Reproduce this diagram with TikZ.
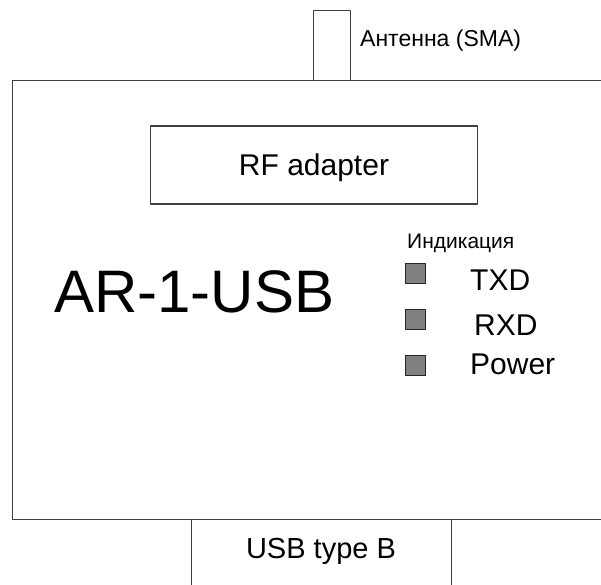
\documentclass[tikz,border=0pt]{standalone}
\usepackage{fontspec}
\setmainfont{Liberation Sans}
\begin{document}
\begin{tikzpicture}[x=1pt,y=-1pt,line join=round,
  box/.style={draw=black!75,line width=1.2pt,inner sep=0pt,anchor=north west},
  led/.style={draw=black!85,fill=black!50,line width=1.2pt,minimum size=20pt,inner sep=0pt},
  lbl/.style={inner sep=0pt,anchor=base west,font=\fontsize{#1}{#1}\selectfont}]
\clip (0,0) rectangle (601,584);
% housing, open to the right
\node[box,minimum width=640pt,minimum height=439.5pt] (body) at (11.5,79.5) {};
\node[box,minimum width=37.5pt,minimum height=69.5pt] (ant) at (312.5,10) {};
\node[lbl=23] (antlbl) at (360,46) {Антенна (SMA)};
\node[box,minimum width=327pt,minimum height=78pt,text height=21.5pt,text depth=0pt,
  font=\fontsize{30}{30}\selectfont,anchor=center] (rf) at (314,165) {RF adapter};
\node[lbl=60] (name) at (54,312) {AR-1-USB};
\node[lbl=21] (ind) at (407,248) {Индикация};
\foreach \sig/\i/\dx/\base in {TXD/0/470/290,RXD/1/474/335,Power/2/470/374}{
\node[led] (led\sig) at (415.5,273.5+46*\i) {};
\node[lbl=30] (txt\sig) at (\dx,\base) {\sig};
}
% connector at the bottom
\node[box,minimum width=260pt,minimum height=100pt] (usb) at (191,519) {};
\node[lbl=29,anchor=base] (usbtxt) at (321,558) {USB type B};
\end{tikzpicture}
\end{document}
